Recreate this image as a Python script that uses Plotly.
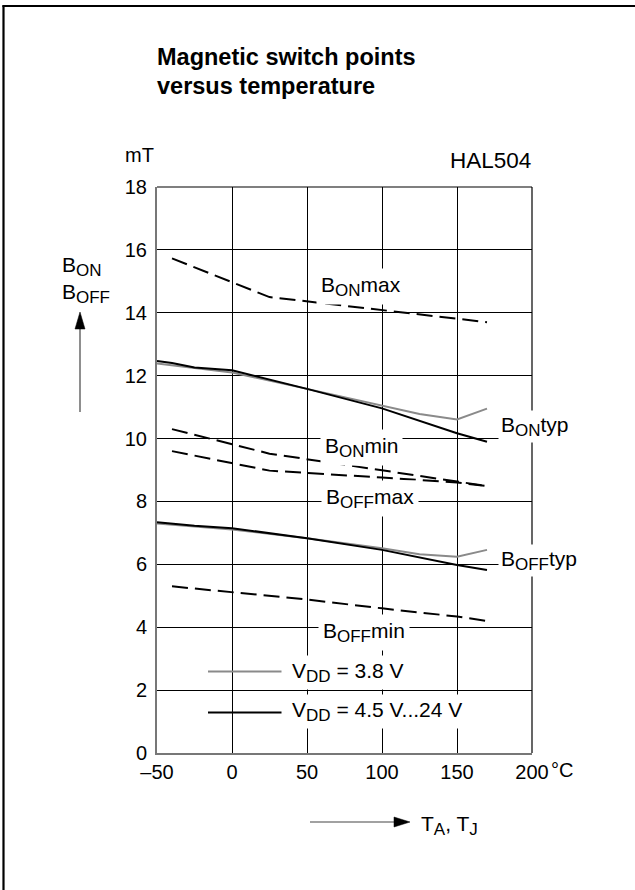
import plotly.graph_objects as go

# ---------------- data ----------------
T_on_max = [-40, 25, 170]
B_on_max = [15.73, 14.50, 13.70]

T_on_min = [-40, 25, 100, 150, 170]
B_on_min = [10.30, 9.52, 8.99, 8.64, 8.49]

T_off_max = [-40, 25, 100, 150, 170]
B_off_max = [9.60, 8.98, 8.76, 8.60, 8.49]

T_off_min = [-40, 0, 50, 100, 150, 170]
B_off_min = [5.30, 5.11, 4.88, 4.60, 4.34, 4.20]

T_on_typ_hi = [-50, -40, -25, 0, 50, 100, 150, 170]
B_on_typ_hi = [12.47, 12.40, 12.26, 12.17, 11.58, 10.96, 10.17, 9.90]

T_on_typ_38 = [-50, -25, 0, 50, 100, 125, 150, 170]
B_on_typ_38 = [12.39, 12.24, 12.10, 11.58, 11.04, 10.78, 10.61, 10.95]

T_off_typ_hi = [-50, -25, 0, 50, 100, 150, 170]
B_off_typ_hi = [7.34, 7.23, 7.15, 6.83, 6.46, 5.98, 5.82]

T_off_typ_38 = [-50, 0, 50, 100, 125, 150, 170]
B_off_typ_38 = [7.30, 7.11, 6.83, 6.51, 6.32, 6.24, 6.46]

x_tickvals = [-50, 0, 50, 100, 150, 200]
x_ticktext = ["\u201350", "0", "50", "100", "150", "200"]
y_tickvals = [0, 2, 4, 6, 8, 10, 12, 14, 16, 18]

legend_names = ["V{DD} = 3.8 V", "V{DD} = 4.5 V...24 V"]

# ---------------- layout geometry ----------------
W, H = 635, 890
L, R, TOP, BOT = 157, 532, 187, 753
FONT = "Liberation Sans, Arial, Helvetica, sans-serif"
GRAY = "#8a8a8a"


def px(xp):
    return (xp - L) / (R - L)


def py(yp):
    return (BOT - yp) / (BOT - TOP)


def sub(s, size=17):
    return f'<sub><span style="font-size:{size}px">{s}</span></sub>'


fig = go.Figure()

dash = "16px,7px"
for T, Bv in [(T_on_max, B_on_max), (T_on_min, B_on_min),
              (T_off_max, B_off_max), (T_off_min, B_off_min)]:
    fig.add_trace(go.Scatter(x=T, y=Bv, mode="lines",
                             line=dict(color="black", width=2, dash=dash),
                             showlegend=False, hoverinfo="skip"))

for T, Bv in [(T_on_typ_38, B_on_typ_38), (T_off_typ_38, B_off_typ_38)]:
    fig.add_trace(go.Scatter(x=T, y=Bv, mode="lines",
                             line=dict(color=GRAY, width=2),
                             showlegend=False, hoverinfo="skip"))

for T, Bv in [(T_on_typ_hi, B_on_typ_hi), (T_off_typ_hi, B_off_typ_hi)]:
    fig.add_trace(go.Scatter(x=T, y=Bv, mode="lines",
                             line=dict(color="black", width=2),
                             showlegend=False, hoverinfo="skip"))

shapes = []
# frame lines (top & right of plot area)
shapes.append(dict(type="line", xref="paper", yref="paper", x0=0, x1=1, y0=1, y1=1,
                   line=dict(color="black", width=1.2)))
shapes.append(dict(type="line", xref="paper", yref="paper", x0=1, x1=1, y0=0, y1=1,
                   line=dict(color="black", width=1.2)))
# page border (left)
shapes.append(dict(type="line", xref="paper", yref="paper", x0=px(3.5), x1=px(3.5),
                   y0=py(5.5), y1=py(900), line=dict(color="black", width=2.2)))
# page border (top)
shapes.append(dict(type="line", xref="paper", yref="paper", x0=px(2.4), x1=px(640),
                   y0=py(6), y1=py(6), line=dict(color="black", width=2.2)))

# legend sample lines
shapes.append(dict(type="line", xref="x", yref="y", x0=-16, x1=33, y0=2.59, y1=2.59,
                   line=dict(color=GRAY, width=2)))
shapes.append(dict(type="line", xref="x", yref="y", x0=-16, x1=33, y0=1.29, y1=1.29,
                   line=dict(color="black", width=2)))

# y-axis arrow
shapes.append(dict(type="line", xref="paper", yref="paper", x0=px(80), x1=px(80),
                   y0=py(412), y1=py(325), line=dict(color="#444", width=1.2)))
shapes.append(dict(type="path", xref="paper", yref="paper",
                   path=f"M {px(75)} {py(329)} L {px(80)} {py(312)} L {px(85)} {py(329)} Z",
                   fillcolor="black", line=dict(color="black", width=0.5)))
# x-axis arrow
shapes.append(dict(type="line", xref="paper", yref="paper", x0=px(310), x1=px(396),
                   y0=py(822), y1=py(822), line=dict(color="#444", width=1.2)))
shapes.append(dict(type="path", xref="paper", yref="paper",
                   path=f"M {px(394)} {py(817)} L {px(410)} {py(822)} L {px(394)} {py(827)} Z",
                   fillcolor="black", line=dict(color="black", width=0.5)))

ann = []


def label(text, x, y, xanchor="center", size=21, xref="x", yref="y", bg="white",
          pad=4, yanchor="middle"):
    ann.append(dict(text=text, x=x, y=y, xref=xref, yref=yref, xanchor=xanchor,
                    yanchor=yanchor, showarrow=False, bgcolor=bg, borderpad=pad,
                    font=dict(family=FONT, size=size, color="black")))


def fmt(s):
    # "B{ON}max" -> B<sub>ON</sub>max
    out = ""
    i = 0
    while i < len(s):
        if s[i] == "{":
            j = s.index("}", i)
            out += sub(s[i + 1:j])
            i = j + 1
        else:
            out += s[i]
            i += 1
    return out


# curve labels (data coordinates)
label(fmt("B{ON}max"), 86, 14.85)
label(fmt("B{ON}min"), 86, 9.70)
label(fmt("B{OFF}max"), 92, 8.10)
label(fmt("B{OFF}min"), 88, 3.84)
label(fmt("B{ON}typ"), 177, 10.38, xanchor="left", pad=2)
label(fmt("B{OFF}typ"), 177, 6.12, xanchor="left", pad=2)
label(fmt(legend_names[0]), 37.5, 2.56, xanchor="left", pad=3)
label(fmt(legend_names[1]), 37.5, 1.33, xanchor="left", pad=3)

# texts around the plot (paper coordinates)
label("<b>Magnetic switch points</b>", px(156), py(57), xanchor="left", size=23.5,
      xref="paper", yref="paper", bg=None, pad=0)
label("<b>versus temperature</b>", px(156), py(86), xanchor="left", size=23.5,
      xref="paper", yref="paper", bg=None, pad=0)
label("mT", px(139), py(155), size=20, xref="paper", yref="paper", bg=None, pad=0)
label("HAL504", px(532), py(161), xanchor="right", size=22.5, xref="paper", yref="paper",
      bg=None, pad=0)
label(fmt("B{ON}"), px(61), py(266), xanchor="left", size=21, xref="paper",
      yref="paper", bg=None, pad=0)
label(fmt("B{OFF}"), px(61), py(293), xanchor="left", size=21, xref="paper",
      yref="paper", bg=None, pad=0)
label("\u00b0C", px(550), py(770), xanchor="left", size=20, xref="paper", yref="paper",
      bg=None, pad=0)
label(fmt("T{A}, T{J}"), px(420), py(825), xanchor="left", size=21,
      xref="paper", yref="paper", bg=None, pad=0)

fig.update_layout(
    width=W, height=H,
    margin=dict(l=L, r=W - R, t=TOP, b=H - BOT, pad=0),
    paper_bgcolor="white", plot_bgcolor="white",
    font=dict(family=FONT, size=20, color="black"),
    showlegend=False,
    shapes=shapes,
    annotations=ann,
    xaxis=dict(range=[-50, 200], tickvals=x_tickvals, ticktext=x_ticktext,
               showgrid=True, gridcolor="black", gridwidth=1, zeroline=False,
               showline=True, linecolor="#777", linewidth=2, ticks="",
               ticklabelstandoff=0, tickfont=dict(size=20)),
    yaxis=dict(range=[0, 18], tickvals=y_tickvals,
               showgrid=True, gridcolor="black", gridwidth=1, zeroline=False,
               showline=True, linecolor="#777", linewidth=2, ticks="",
               ticklabelstandoff=4, tickfont=dict(size=20)),
)

fig.write_html("out.html", config={"displayModeBar": False})
